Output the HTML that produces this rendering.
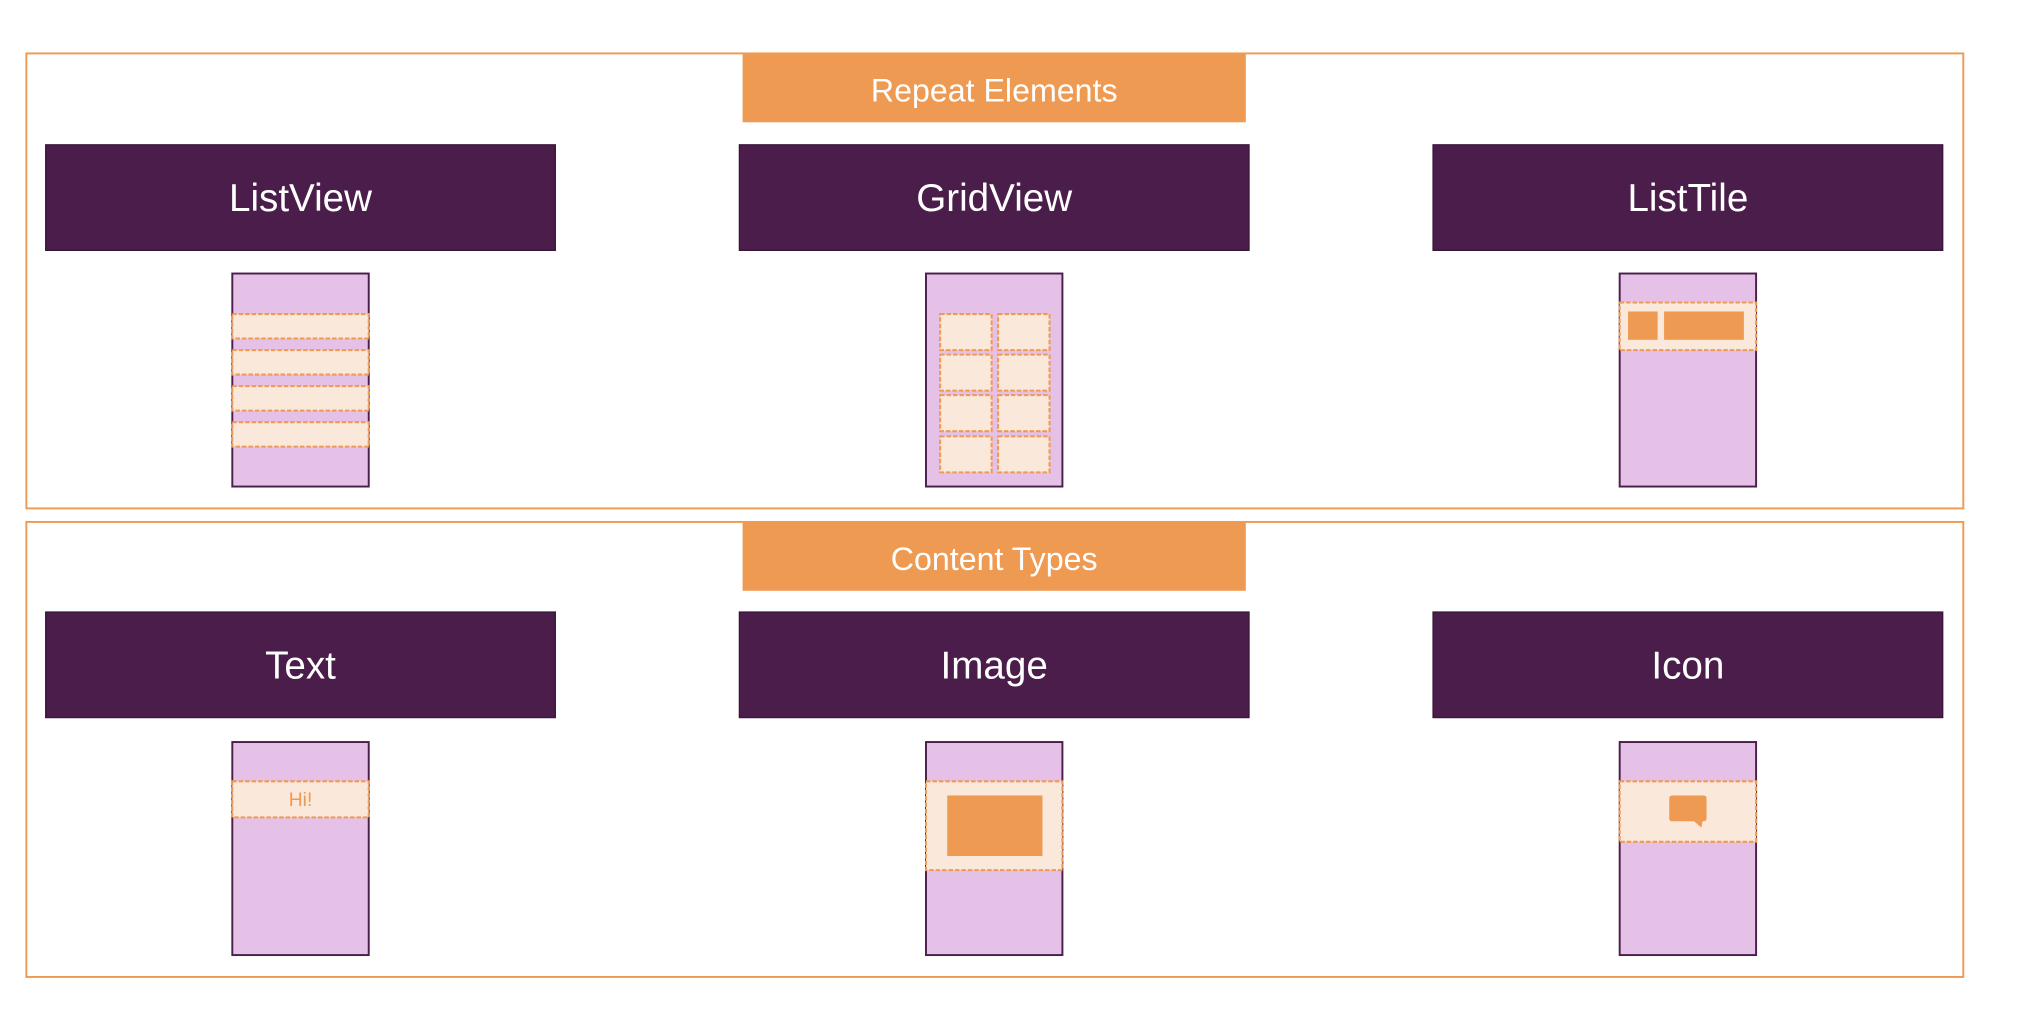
<!DOCTYPE html>
<html><head><meta charset="utf-8"><style>
html,body{margin:0;padding:0;background:#fff;width:2018px;height:1022px;overflow:hidden}
svg{display:block}
text{font-family:"Liberation Sans",sans-serif}
</style></head><body>
<svg width="2018" height="1022" viewBox="0 0 1568 794" preserveAspectRatio="none" xmlns="http://www.w3.org/2000/svg">
<g fill="none" stroke="#EE9A52" stroke-width="1.5">
<rect x="20.5" y="41.5" width="1505" height="353.5"/>
<rect x="20.5" y="405.5" width="1505" height="353.5"/>
</g>
<rect x="577" y="41" width="391" height="54" fill="#EE9A52"/>
<rect x="577" y="405" width="391" height="54" fill="#EE9A52"/>
<text x="772.5" y="79" font-size="25" fill="#fff" text-anchor="middle">Repeat Elements</text>
<text x="772.5" y="443" font-size="25" fill="#fff" text-anchor="middle">Content Types</text>
<g fill="#4A1D4B" stroke="#3a1538" stroke-width="1">
<rect x="35.5" y="112.5" width="396" height="82"/>
<rect x="574.5" y="112.5" width="396" height="82"/>
<rect x="1113.5" y="112.5" width="396" height="82"/>
<rect x="35.5" y="475.5" width="396" height="82"/>
<rect x="574.5" y="475.5" width="396" height="82"/>
<rect x="1113.5" y="475.5" width="396" height="82"/>
</g>
<g font-size="30" fill="#fff" text-anchor="middle">
<text x="233.5" y="164">ListView</text>
<text x="772.5" y="164">GridView</text>
<text x="1311.5" y="164">ListTile</text>
<text x="233.5" y="527">Text</text>
<text x="772.5" y="527">Image</text>
<text x="1311.5" y="527">Icon</text>
</g>
<g fill="#E5C1E7" stroke="#4A1D4B" stroke-width="1.5">
<rect x="180.5" y="212.5" width="106" height="165.5"/>
<rect x="719.5" y="212.5" width="106" height="165.5"/>
<rect x="1258.5" y="212.5" width="106" height="165.5"/>
<rect x="180.5" y="576.5" width="106" height="165.5"/>
<rect x="719.5" y="576.5" width="106" height="165.5"/>
<rect x="1258.5" y="576.5" width="106" height="165.5"/>
</g>
<g fill="#FAE8DB" stroke="#EE9A52" stroke-width="1.6" stroke-dasharray="3.5,1.5">
<rect x="180.5" y="244" width="106" height="19"/>
<rect x="180.5" y="272" width="106" height="19"/>
<rect x="180.5" y="300" width="106" height="19"/>
<rect x="180.5" y="328" width="106" height="19"/>
<rect x="730.5" y="244" width="40" height="28"/>
<rect x="775.5" y="244" width="40" height="28"/>
<rect x="730.5" y="275.5" width="40" height="28"/>
<rect x="775.5" y="275.5" width="40" height="28"/>
<rect x="730.5" y="307" width="40" height="28"/>
<rect x="775.5" y="307" width="40" height="28"/>
<rect x="730.5" y="339" width="40" height="28"/>
<rect x="775.5" y="339" width="40" height="28"/>
<rect x="1258.5" y="235" width="106" height="37"/>
<rect x="180.5" y="607" width="106" height="28"/>
<rect x="719.5" y="607" width="106" height="69"/>
<rect x="1258.5" y="607" width="106" height="47"/>
</g>
<g fill="#EE9A52">
<rect x="1265" y="242" width="23" height="22"/>
<rect x="1293" y="242" width="62" height="22"/>
<rect x="736" y="618" width="74" height="47"/>
<rect x="1297" y="618" width="29" height="20" rx="2"/>
<polygon points="1315,637 1323,637 1322,643"/>
</g>
<text x="233.5" y="626" font-size="15" fill="#EE9A52" text-anchor="middle">Hi!</text>
</svg>
</body></html>
